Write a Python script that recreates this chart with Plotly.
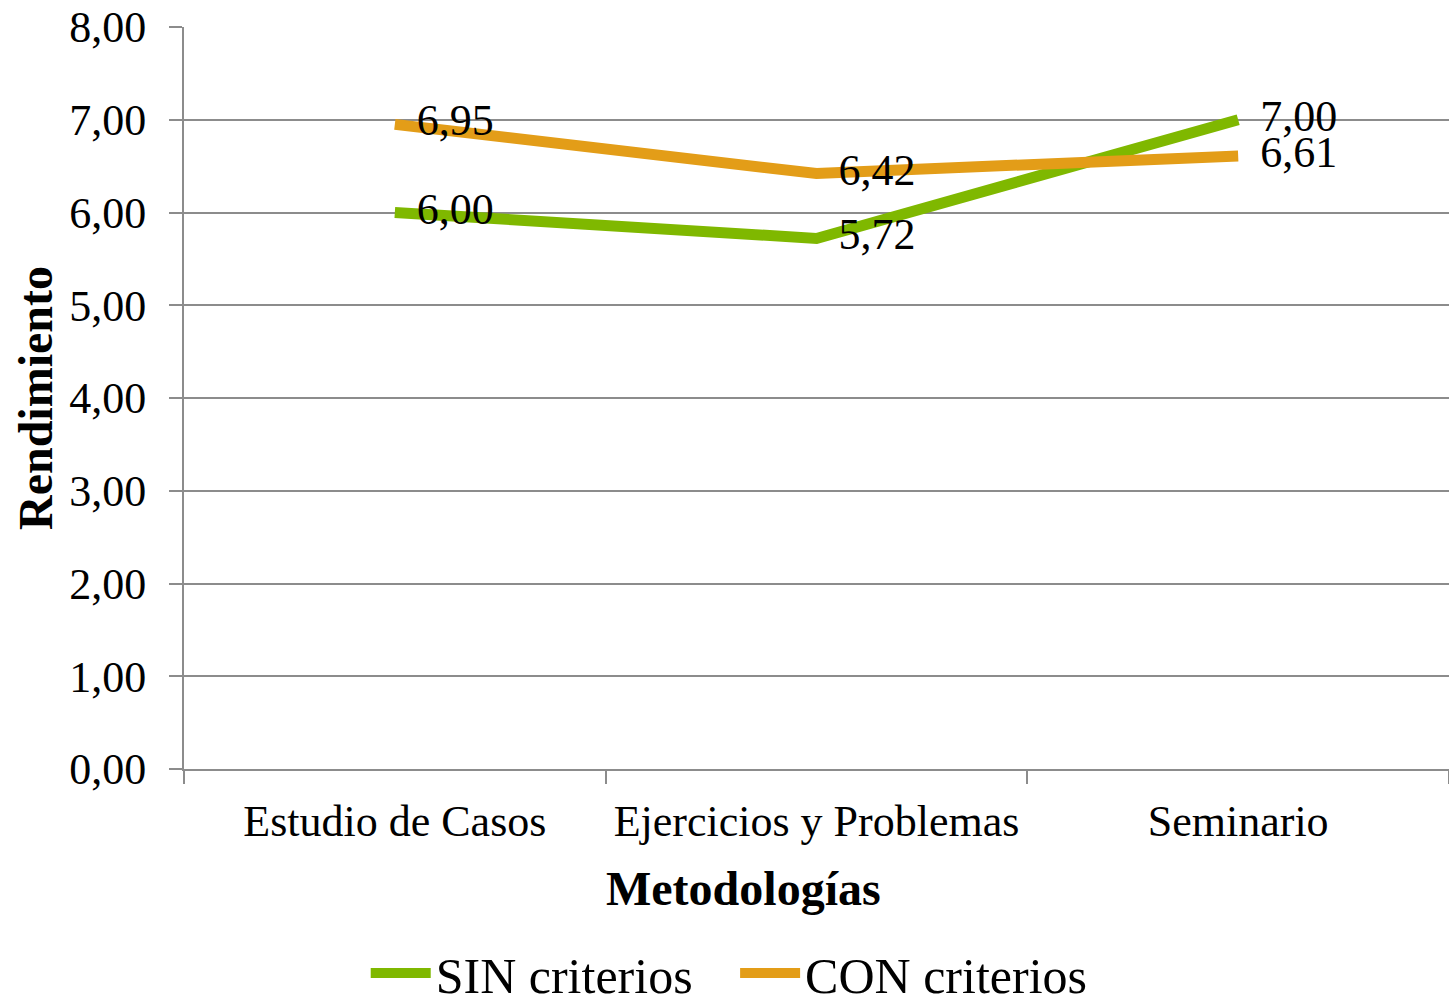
import plotly.graph_objects as go

categories = ["Estudio de Casos", "Ejercicios y Problemas", "Seminario"]
sin_criterios = [6.00, 5.72, 7.00]
con_criterios = [6.95, 6.42, 6.61]
y_ticks = [0, 1, 2, 3, 4, 5, 6, 7, 8]

FONT = "Liberation Serif"
GRID = "#8c8c8c"
PAD = "\u00a0\u00a0"

fig = go.Figure()
fig.add_trace(go.Scatter(
    x=categories, y=sin_criterios, name="SIN criterios\u00a0\u00a0\u00a0", mode="lines+text",
    line=dict(color="#7fb800", width=11),
    text=[PAD + f"{v:.2f}".replace(".", ",") for v in sin_criterios],
    textposition="middle right", textfont=dict(family=FONT, size=44, color="black"),
))
fig.add_trace(go.Scatter(
    x=categories, y=con_criterios, name="CON criterios", mode="lines+text",
    line=dict(color="#e39d18", width=11),
    text=[PAD + f"{v:.2f}".replace(".", ",") for v in con_criterios],
    textposition="middle right", textfont=dict(family=FONT, size=44, color="black"),
))

fig.update_layout(
    width=1449, height=999,
    margin=dict(l=184, r=0, t=27, b=230, autoexpand=False),
    paper_bgcolor="white", plot_bgcolor="white",
    separators=",.",
    font=dict(family=FONT, size=44, color="black"),
    showlegend=True,
    legend=dict(orientation="h", x=0.431, xanchor="center", y=(769 - 973) / 742, yanchor="middle",
                font=dict(family=FONT, size=50), itemwidth=60),
    xaxis=dict(
        type="category", range=[-0.5, 2.5], tickson="boundaries", automargin=False,
        ticks="outside", ticklen=13, tickwidth=2, tickcolor=GRID,
        showline=True, linecolor=GRID, linewidth=2, showgrid=False,
        tickfont=dict(family=FONT, size=44), ticklabelstandoff=12,
    ),
    yaxis=dict(
        range=[0, 8], tickvals=y_ticks, tickformat=".2f", automargin=False,
        ticks="outside", ticklen=13, tickwidth=2, tickcolor=GRID,
        showline=True, linecolor=GRID, linewidth=2,
        showgrid=True, gridcolor=GRID, gridwidth=2, zeroline=False,
        tickfont=dict(family=FONT, size=44), ticklabelstandoff=14,
    ),
    annotations=[
        dict(text="<b>Metodologías</b>", xref="paper", yref="paper",
             x=(743 - 184) / 1265, y=(769 - 888) / 742, xanchor="center", yanchor="middle",
             showarrow=False, font=dict(family=FONT, size=48)),
        dict(text="<b>Rendimiento</b>", xref="paper", yref="paper",
             x=(35 - 184) / 1265, y=0.5, xanchor="center", yanchor="middle", textangle=-90,
             showarrow=False, font=dict(family=FONT, size=48)),
    ],
)

fig.write_html("out.html", config={"displayModeBar": False},
               post_script="document.body.style.margin='0';document.body.style.overflow='hidden';")
